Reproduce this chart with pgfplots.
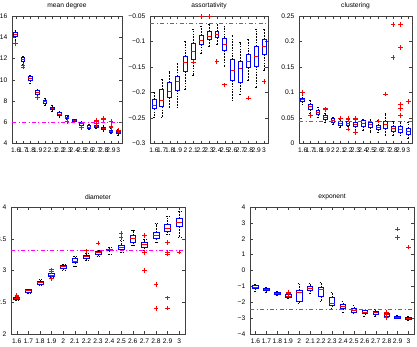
\documentclass[border=0pt]{standalone}
\usepackage{fontspec}
\setmainfont{Liberation Sans}
\usepackage{pgfplots}
\pgfplotsset{compat=1.18}
\usepgfplotslibrary{statistics}

\definecolor{mlred}{rgb}{1,0,0}
\definecolor{mlblue}{rgb}{0,0,1}
\definecolor{mlmag}{rgb}{1,0,1}

% red plus that sets its own stroke colour every time it is drawn
\pgfdeclareplotmark{rplus}{%
  \pgfsetstrokecolor{white}\pgfsetstrokecolor{mlred}%
  \pgfpathmoveto{\pgfqpoint{-\pgfplotmarksize}{0pt}}%
  \pgfpathlineto{\pgfqpoint{\pgfplotmarksize}{0pt}}%
  \pgfpathmoveto{\pgfqpoint{0pt}{-\pgfplotmarksize}}%
  \pgfpathlineto{\pgfqpoint{0pt}{\pgfplotmarksize}}%
  \pgfusepathqstroke}

% one prepared box: position, lower whisker, lower quartile, median, upper quartile, upper whisker
\newcommand{\bx}[6]{\addplot[boxplot prepared={draw position=#1, lower whisker=#2,
  lower quartile=#3, median=#4, upper quartile=#5, upper whisker=#6}] coordinates {};}

\pgfplotsset{
  mbox/.style={
    scale only axis,
    anchor=south west,
    xmin=0.5, xmax=15.5,
    xtick={1,...,15},
    xticklabels={1.6,1.7,1.8,1.9,2,2.1,2.2,2.3,2.4,2.5,2.6,2.7,2.8,2.9,3},
    tick align=inside,
    major tick length=2pt,
    axis line style={draw=black!75, line width=0.6pt},
    tick style={draw=black!75},
    ticklabel style={font=\fontsize{5}{6}\selectfont},
    title style={font=\fontsize{5}{6}\selectfont, yshift=-4pt},
    /pgf/number format/assume math mode=true,
    scaled y ticks=false,
    yticklabel style={/pgf/number format/fixed},
    boxplot/draw direction=y,
    boxplot/box extend=0.5,
    boxplot/whisker extend=0.25,
    boxplot/every box/.style={draw=mlblue, line width=0.6pt},
    boxplot/every median/.style={draw=mlred, line width=0.6pt},
    boxplot/every whisker/.style={draw=black, dash pattern=on 1.2pt off 0.9pt, line width=0.45pt},
  },
  outl/.style={only marks, mark=rplus, color=mlred, mark size=1.7pt,
    mark options={solid, line width=0.6pt}},
  refl/.style={color=mlmag, draw=mlmag, dash dot, line width=0.7pt},
}

\begin{document}
\begin{tikzpicture}
\useasboundingbox (0,0) rectangle (312.75pt,259.5pt);

% mean degree
\begin{axis}[mbox, at={(9pt,151.875pt)}, width=82.5pt, height=95.6pt,
  title={mean degree}, ymin=4, ymax=16, ytick={4,6,...,16}]
\bx{1}{13.75}{14.1}{14.3}{14.5}{14.7}
\bx{2}{11.5}{11.7}{11.9}{12.06}{12.25}
\bx{3}{9.7}{9.94}{10.1}{10.3}{10.4}
\bx{4}{8.45}{8.6}{8.8}{9.0}{9.1}
\bx{5}{7.55}{7.75}{7.94}{8.1}{8.25}
\bx{6}{7.06}{7.2}{7.3}{7.44}{7.55}
\bx{7}{6.5}{6.6}{6.75}{6.9}{7.06}
\bx{8}{6.25}{6.35}{6.47}{6.6}{6.62}
\bx{9}{6.0}{6.06}{6.15}{6.25}{6.3}
\bx{10}{5.63}{5.7}{5.87}{6.0}{6.12}
\bx{11}{5.3}{5.44}{5.55}{5.7}{5.8}
\bx{12}{5.44}{5.55}{5.65}{5.75}{5.94}
\bx{13}{5.19}{5.31}{5.4}{5.5}{5.69}
\bx{14}{4.94}{5.06}{5.15}{5.28}{5.44}
\bx{15}{4.81}{4.94}{5.03}{5.15}{5.31}
\addplot[outl] coordinates {(1,13.4) (2,11.35) (2,11.2) (4,8.3) (8,6.06) (10,5.5)
  (12,6.19) (12,6.06) (12,5.87) (13,6.4) (13,6.25) (14,6.06) (14,5.6) (14,5.5) (15,5.25)};
\addplot[refl] coordinates {(0.5,6) (15.5,6)};
\end{axis}

% assortativity
\begin{axis}[mbox, at={(112.5pt,151.875pt)}, width=88.5pt, height=95.6pt,
  title={assortativity}, ymin=-0.3, ymax=-0.05, ytick={-0.3,-0.25,-0.2,-0.15,-0.1,-0.05},
  yticklabels={−0.3,−0.25,−0.2,−0.15,−0.1,−0.05}, clip=false]
\bx{1}{-0.249}{-0.232}{-0.2254}{-0.2136}{-0.199}
\bx{2}{-0.249}{-0.228}{-0.215}{-0.194}{-0.174}
\bx{3}{-0.229}{-0.21}{-0.197}{-0.18}{-0.159}
\bx{4}{-0.229}{-0.195}{-0.178}{-0.168}{-0.143}
\bx{5}{-0.194}{-0.159}{-0.14}{-0.13}{-0.1}
\bx{6}{-0.166}{-0.135}{-0.12}{-0.104}{-0.076}
\bx{7}{-0.123}{-0.105}{-0.098}{-0.088}{-0.07}
\bx{8}{-0.11}{-0.096}{-0.09}{-0.081}{-0.066}
\bx{9}{-0.106}{-0.092}{-0.087}{-0.08}{-0.064}
\bx{10}{-0.149}{-0.118}{-0.105}{-0.093}{-0.071}
\bx{11}{-0.216}{-0.176}{-0.156}{-0.136}{-0.087}
\bx{12}{-0.204}{-0.18}{-0.153}{-0.139}{-0.102}
\bx{13}{-0.176}{-0.151}{-0.139}{-0.126}{-0.096}
\bx{14}{-0.189}{-0.148}{-0.129}{-0.109}{-0.076}
\bx{15}{-0.156}{-0.125}{-0.109}{-0.096}{-0.076}
\addplot[outl] coordinates {(6,-0.14) (7,-0.05) (8,-0.05) (9,-0.139) (10,-0.185)
  (13,-0.211) (15,-0.178)};
\addplot[refl] coordinates {(0.5,-0.064) (15.5,-0.064)};
\end{axis}

% clustering
\begin{axis}[mbox, at={(224.25pt,151.875pt)}, width=84.75pt, height=95.6pt,
  title={clustering}, ymin=0, ymax=0.25, ytick={0,0.05,0.1,0.15,0.2,0.25}, clip=false]
\bx{1}{0.077}{0.0825}{0.0864}{0.089}{0.094}
\bx{2}{0.060}{0.067}{0.072}{0.076}{0.085}
\bx{3}{0.051}{0.0576}{0.0615}{0.0654}{0.071}
\bx{4}{0.042}{0.047}{0.051}{0.055}{0.060}
\bx{5}{0.037}{0.042}{0.046}{0.05}{0.052}
\bx{6}{0.031}{0.035}{0.039}{0.043}{0.047}
\bx{7}{0.033}{0.035}{0.039}{0.043}{0.047}
\bx{8}{0.0275}{0.034}{0.038}{0.042}{0.045}
\bx{9}{0.026}{0.033}{0.039}{0.045}{0.048}
\bx{10}{0.021}{0.031}{0.037}{0.042}{0.047}
\bx{11}{0.021}{0.0275}{0.0314}{0.035}{0.045}
\bx{12}{0.017}{0.03}{0.038}{0.043}{0.06}
\bx{13}{0.016}{0.0236}{0.0288}{0.0327}{0.044}
\bx{14}{0.017}{0.022}{0.0275}{0.0327}{0.042}
\bx{15}{0.0105}{0.018}{0.0236}{0.030}{0.0406}
\addplot[outl] coordinates {(1,0.0995) (2,0.055) (4,0.068) (4,0.066) (6,0.05)
  (7,0.05) (7,0.048) (7,0.028) (8,0.05) (8,0.047) (8,0.022) (11,0.044) (12,0.097)
  (13,0.233) (13,0.169) (14,0.233) (14,0.188) (14,0.077) (14,0.068) (14,0.055) (15,0.0825)};
\addplot[refl] coordinates {(0.5,0.0432) (15.5,0.0432)};
\end{axis}

% diameter
\begin{axis}[mbox, at={(8.25pt,9pt)}, width=130.5pt, height=95.25pt,
  title={diameter}, ymin=2, ymax=4, ytick={2,2.5,3,3.5,4}]
\bx{1}{2.53}{2.54}{2.56}{2.58}{2.6}
\bx{2}{2.64}{2.66}{2.68}{2.70}{2.71}
\bx{3}{2.77}{2.78}{2.81}{2.83}{2.86}
\bx{4}{2.89}{2.91}{2.925}{2.95}{2.96}
\bx{5}{3.0}{3.03}{3.06}{3.08}{3.1}
\bx{6}{3.07}{3.12}{3.15}{3.19}{3.22}
\bx{7}{3.16}{3.19}{3.22}{3.24}{3.27}
\bx{8}{3.22}{3.25}{3.28}{3.30}{3.32}
\bx{9}{3.26}{3.31}{3.33}{3.34}{3.37}
\bx{10}{3.28}{3.33}{3.36}{3.40}{3.48}
\bx{11}{3.39}{3.45}{3.5}{3.55}{3.64}
\bx{12}{3.32}{3.37}{3.41}{3.45}{3.49}
\bx{13}{3.45}{3.5}{3.56}{3.60}{3.74}
\bx{14}{3.57}{3.61}{3.67}{3.72}{3.85}
\bx{15}{3.52}{3.69}{3.75}{3.82}{3.94}
\addplot[outl] coordinates {(1,2.61) (1,2.59) (4,3.01) (4,2.98) (4,2.87) (7,3.31)
  (8,3.43) (10,3.58) (10,3.52) (12,3.55) (12,3.29) (12,3.28) (12,3.0) (13,2.78) (13,2.40)
  (14,3.44) (14,3.29) (14,3.26) (14,2.57) (14,2.41) (15,3.29)};
\addplot[refl] coordinates {(0.5,3.31) (15.5,3.31)};
\end{axis}

% exponent
\begin{axis}[mbox, at={(187.5pt,9pt)}, width=123pt, height=95.25pt,
  title={exponent}, ymin=-4, ymax=4, ytick={-4,-3,...,4},
  yticklabels={−4,−3,−2,−1,0,1,2,3,4}]
\bx{1}{-1.28}{-1.15}{-1.07}{-0.94}{-0.86}
\bx{2}{-1.4}{-1.28}{-1.19}{-1.11}{-1.03}
\bx{3}{-1.57}{-1.53}{-1.45}{-1.36}{-1.28}
\bx{4}{-1.78}{-1.70}{-1.61}{-1.53}{-1.45}
\bx{5}{-2.07}{-1.95}{-1.40}{-1.28}{-0.82}
\bx{6}{-1.45}{-1.24}{-1.11}{-0.98}{-0.82}
\bx{7}{-1.95}{-1.65}{-1.19}{-1.07}{-0.73}
\bx{8}{-2.37}{-2.2}{-2.07}{-1.70}{-1.36}
\bx{9}{-2.66}{-2.41}{-2.28}{-2.12}{-1.95}
\bx{10}{-2.7}{-2.62}{-2.49}{-2.37}{-2.2}
\bx{11}{-2.87}{-2.7}{-2.62}{-2.53}{-2.49}
\bx{12}{-2.87}{-2.74}{-2.66}{-2.58}{-2.45}
\bx{13}{-2.91}{-2.87}{-2.79}{-2.7}{-2.62}
\bx{14}{-3.04}{-3.0}{-2.95}{-2.87}{-2.83}
\bx{15}{-3.16}{-3.08}{-3.0}{-2.95}{-2.87}
\addplot[outl] coordinates {(4,-1.36) (4,-1.45) (13,-2.66) (13,-2.74) (13,-2.95)
  (14,2.6) (14,2.07) (15,1.47)};
\addplot[refl] coordinates {(0.5,-2.45) (15.5,-2.45)};
\end{axis}
\end{tikzpicture}
\end{document}
